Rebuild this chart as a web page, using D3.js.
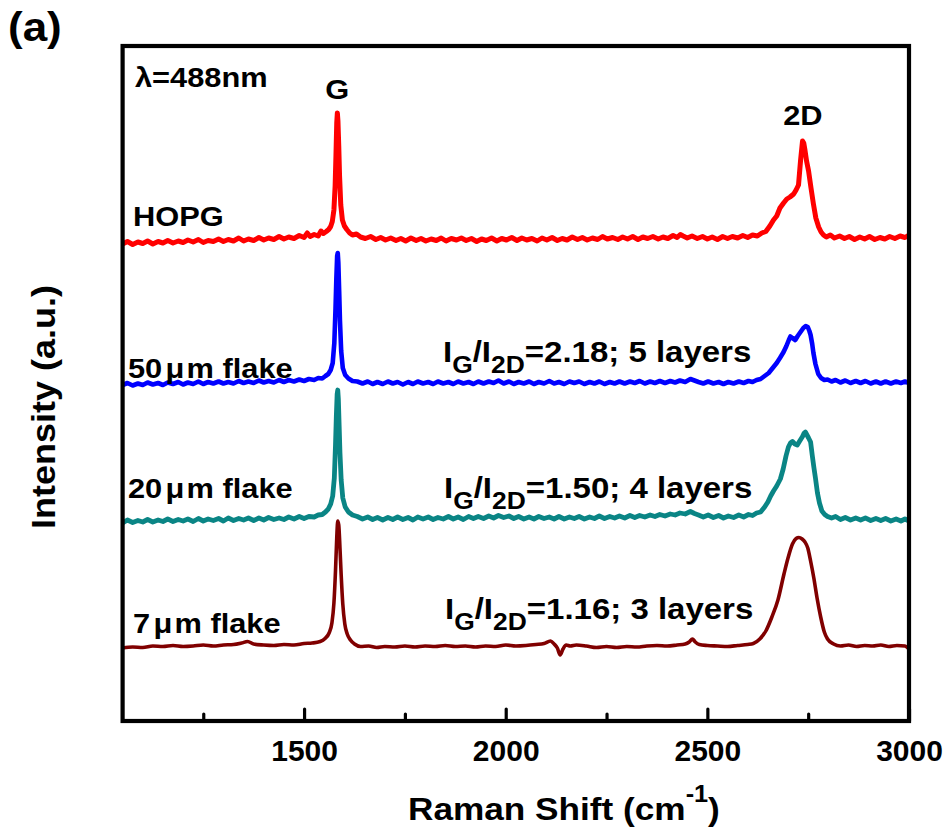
<!DOCTYPE html>
<html>
<head>
<meta charset="utf-8">
<script src="https://cdn.jsdelivr.net/npm/d3@7"></script>
<style>
  body { margin: 0; background: #fff; }
  text { font-family: "Liberation Sans", Arial, Helvetica, sans-serif; font-weight: bold; fill: #000; }
</style>
</head>
<body>
<svg id="chart" width="948" height="828"></svg>
<script>
// Raman spectra, [shift (cm^-1), stacked intensity (a.u.)]
const hopg = [
  [1050,95.4],[1062,95.9],[1075,95.3],[1088,95.8],[1100,95.5],[1112,96.0],[1125,95.4],[1138,95.9],[1150,95.6],[1162,96.1],
  [1175,95.6],[1188,96.0],[1200,95.7],[1212,96.2],[1225,95.8],[1238,96.3],[1250,95.7],[1262,96.1],[1275,95.9],[1288,96.4],
  [1300,95.9],[1312,96.3],[1325,96.0],[1338,96.6],[1350,96.0],[1362,96.4],[1375,96.1],[1388,96.7],[1400,96.2],[1412,96.6],
  [1425,96.3],[1438,96.9],[1450,96.4],[1462,96.8],[1475,96.5],[1488,97.1],[1500,96.7],[1508,97.6],[1515,96.9],[1525,97.3],
  [1535,97.0],[1542,98.0],[1548,97.5],[1555,97.9],[1561,98.3],[1566,98.9],[1570,99.9],[1574,102.2],[1577,107.0],[1579,113.0],
  [1581,119.6],[1582.5,121.6],[1584,120.0],[1586,115.0],[1588,109.0],[1591,103.2],[1595,100.2],[1600,99.0],[1606,98.3],[1613,97.6],
  [1620,97.2],[1630,97.4],[1640,96.8],[1652,96.5],[1665,96.9],[1678,96.3],[1690,96.7],[1702,96.2],[1715,96.6],[1728,96.1],
  [1740,96.5],[1752,96.0],[1765,96.6],[1778,96.1],[1790,96.5],[1802,96.0],[1815,96.4],[1828,96.1],[1840,96.6],[1852,96.0],
  [1865,96.5],[1878,96.2],[1890,96.6],[1902,96.1],[1915,96.5],[1928,95.9],[1940,96.4],[1952,96.1],[1965,96.6],[1978,96.0],
  [1990,96.5],[2002,96.2],[2015,96.7],[2028,96.1],[2040,96.6],[2052,96.2],[2065,96.5],[2078,96.0],[2090,96.6],[2102,96.2],
  [2115,96.7],[2128,96.1],[2140,96.5],[2152,96.2],[2165,96.8],[2178,96.3],[2190,96.7],[2202,96.2],[2215,96.6],[2228,96.3],
  [2240,96.9],[2252,96.4],[2265,96.7],[2278,96.3],[2290,96.8],[2302,96.4],[2315,96.9],[2328,96.3],[2340,96.8],[2352,96.5],
  [2365,96.9],[2378,96.4],[2390,96.8],[2402,96.5],[2415,97.1],[2425,96.7],[2433,97.3],[2440,97.0],[2450,96.6],[2462,97.0],
  [2475,96.5],[2488,96.9],[2500,96.4],[2512,96.8],[2525,96.3],[2538,96.9],[2550,96.5],[2562,96.9],[2575,96.6],[2588,97.1],
  [2600,96.7],[2612,97.2],[2624,97.0],[2635,97.6],[2645,97.9],[2655,99.0],[2664,100.2],[2672,101.0],[2680,102.6],[2689,103.6],
  [2697,104.4],[2705,104.8],[2714,105.4],[2720,106.2],[2726,107.2],[2731,112.0],[2736,116.0],[2739,115.6],[2742,114.2],[2746,112.0],
  [2751,110.0],[2757,106.6],[2763,103.4],[2769,100.6],[2776,98.8],[2782,97.8],[2788,97.2],[2795,96.8],[2805,97.2],[2815,96.6],
  [2828,97.0],[2840,96.5],[2852,96.9],[2865,96.3],[2878,96.8],[2890,96.4],[2902,96.9],[2915,96.3],[2928,96.7],[2940,96.4],
  [2952,96.9],[2965,96.5],[2978,97.0],[2990,96.7],[3000,97.2]
];

const flake50 = [
  [1050,67.2],[1062,67.6],[1075,67.1],[1088,67.5],[1100,67.2],[1112,67.7],[1125,67.3],[1138,67.6],[1150,67.2],[1162,67.7],
  [1175,67.4],[1188,67.8],[1200,67.3],[1212,67.7],[1225,67.4],[1238,67.9],[1250,67.4],[1262,67.8],[1275,67.5],[1288,67.9],
  [1300,67.5],[1312,67.8],[1325,67.5],[1338,68.0],[1350,67.6],[1362,67.9],[1375,67.6],[1388,68.1],[1400,67.7],[1412,68.0],
  [1425,67.7],[1438,68.2],[1450,67.8],[1462,68.2],[1475,67.9],[1488,68.3],[1500,68.0],[1512,68.4],[1525,68.2],[1535,68.6],
  [1545,68.5],[1553,69.0],[1560,69.4],[1566,70.2],[1571,71.6],[1575,75.6],[1578,82.6],[1580,88.4],[1582,93.0],[1583.5,93.6],
  [1585,91.6],[1587,86.0],[1589,80.0],[1592,74.0],[1596,70.6],[1602,69.2],[1610,68.5],[1620,68.0],[1632,67.9],[1645,67.5],
  [1658,67.9],[1670,67.4],[1682,67.8],[1695,67.4],[1708,67.9],[1720,67.5],[1732,67.8],[1745,67.3],[1758,67.8],[1770,67.4],
  [1782,67.9],[1795,67.5],[1808,67.8],[1820,67.4],[1832,67.9],[1845,67.5],[1858,67.8],[1870,67.4],[1882,67.9],[1895,67.5],
  [1908,67.8],[1920,67.4],[1932,67.9],[1945,67.5],[1958,67.9],[1970,67.6],[1982,68.1],[1995,67.5],[2008,67.9],[2020,67.4],
  [2032,67.8],[2045,67.5],[2058,67.9],[2070,67.4],[2082,67.8],[2095,67.5],[2108,68.0],[2120,67.5],[2132,67.8],[2145,67.4],
  [2158,67.9],[2170,67.6],[2182,67.9],[2195,67.4],[2208,67.8],[2220,67.5],[2232,67.9],[2245,67.4],[2258,67.8],[2270,67.5],
  [2282,67.9],[2295,67.5],[2308,67.9],[2320,67.6],[2332,68.0],[2345,67.5],[2358,67.9],[2370,67.6],[2382,68.0],[2395,67.6],
  [2408,68.0],[2420,67.7],[2432,68.1],[2445,67.8],[2458,68.4],[2468,68.1],[2478,67.8],[2490,67.5],[2502,67.9],[2515,67.5],
  [2528,67.8],[2540,67.4],[2552,67.8],[2565,67.5],[2578,67.9],[2590,67.6],[2602,68.0],[2612,67.8],[2622,68.2],[2632,68.4],
  [2642,69.0],[2652,69.6],[2664,70.8],[2672,71.6],[2680,72.6],[2689,73.8],[2696,75.0],[2702,76.2],[2706,76.9],[2711,76.6],
  [2718,76.2],[2724,77.0],[2731,77.8],[2738,78.6],[2744,79.0],[2749,78.8],[2753,78.0],[2756,77.2],[2760,75.4],[2763,73.6],
  [2768,71.4],[2775,69.4],[2782,68.6],[2790,68.2],[2798,68.3],[2808,67.9],[2818,68.2],[2830,67.7],[2842,68.1],[2855,67.6],
  [2868,68.0],[2880,67.6],[2892,68.0],[2905,67.5],[2918,67.9],[2930,67.5],[2942,67.9],[2955,67.5],[2968,67.9],[2980,67.6],
  [2990,67.9],[3000,67.6]
];

const flake20 = [
  [1050,39.6],[1062,40.2],[1075,39.7],[1088,40.1],[1100,39.8],[1112,40.3],[1125,39.8],[1138,40.2],[1150,39.9],[1162,40.4],
  [1175,39.9],[1188,40.3],[1200,40.0],[1212,40.4],[1225,39.9],[1238,40.5],[1250,40.0],[1262,40.4],[1275,40.1],[1288,40.5],
  [1300,40.0],[1312,40.6],[1325,40.1],[1338,40.5],[1350,40.2],[1362,40.6],[1375,40.1],[1388,40.6],[1400,40.2],[1412,40.7],
  [1425,40.3],[1438,40.6],[1450,40.3],[1462,40.8],[1475,40.4],[1488,40.9],[1500,40.5],[1512,40.9],[1525,40.8],[1535,41.2],
  [1545,41.3],[1553,41.8],[1560,42.4],[1566,43.4],[1571,45.0],[1575,48.6],[1578,55.4],[1580,61.0],[1582,65.4],[1583.5,66.2],
  [1585,64.4],[1587,59.0],[1589,53.6],[1592,48.2],[1596,44.6],[1602,42.8],[1610,41.8],[1620,41.2],[1632,40.9],[1645,40.4],
  [1658,40.8],[1670,40.3],[1682,40.7],[1695,40.2],[1708,40.7],[1720,40.3],[1732,40.8],[1745,40.3],[1758,40.7],[1770,40.2],
  [1782,40.8],[1795,40.4],[1808,40.8],[1820,40.3],[1832,40.7],[1845,40.4],[1858,40.9],[1870,40.4],[1882,40.8],[1895,40.3],
  [1908,40.9],[1920,40.5],[1932,40.9],[1945,40.5],[1958,41.0],[1970,40.6],[1982,41.1],[1995,40.7],[2008,41.0],[2020,40.5],
  [2032,40.9],[2045,40.4],[2058,40.8],[2070,40.4],[2082,40.9],[2095,40.5],[2108,40.8],[2120,40.4],[2132,40.9],[2145,40.4],
  [2158,40.8],[2170,40.5],[2182,40.9],[2195,40.4],[2208,40.8],[2220,40.5],[2232,41.0],[2245,40.5],[2258,40.9],[2270,40.6],
  [2282,41.0],[2295,40.6],[2308,41.1],[2320,40.7],[2332,41.1],[2345,40.8],[2358,41.2],[2370,40.9],[2382,41.3],[2395,41.0],
  [2408,41.4],[2420,41.2],[2432,41.6],[2445,41.4],[2458,41.9],[2468,41.5],[2478,41.2],[2490,40.8],[2502,41.2],[2515,40.7],
  [2528,41.1],[2540,40.6],[2552,41.0],[2565,40.7],[2578,41.2],[2590,40.8],[2602,41.3],[2612,41.1],[2622,41.6],[2632,41.8],
  [2642,42.8],[2650,43.8],[2657,45.0],[2664,46.0],[2672,47.0],[2681,48.4],[2688,50.4],[2695,53.0],[2701,54.8],[2706,55.6],
  [2711,55.9],[2717,55.4],[2723,55.2],[2729,56.0],[2736,56.9],[2740,57.6],[2743,57.8],[2747,57.2],[2751,56.6],[2756,55.8],
  [2760,53.2],[2764,50.8],[2768,48.6],[2773,45.6],[2778,43.6],[2784,42.0],[2791,41.3],[2798,40.9],[2808,40.6],[2818,40.9],
  [2830,40.3],[2842,40.7],[2855,40.2],[2868,40.6],[2880,40.2],[2892,40.6],[2905,40.1],[2918,40.5],[2930,40.1],[2942,40.5],
  [2955,40.0],[2968,40.4],[2980,40.0],[2990,40.4],[3000,40.0]
];

const flake7 = [
  [1050,14.6],[1075,14.8],[1100,14.7],[1125,15.0],[1150,14.9],[1175,15.1],[1200,14.9],[1225,15.0],[1250,15.2],[1275,15.0],
  [1300,15.2],[1325,15.3],[1345,15.6],[1360,15.9],[1375,15.4],[1400,15.2],[1425,15.1],[1450,15.3],[1475,15.2],[1500,15.5],
  [1520,15.6],[1540,15.9],[1552,16.5],[1562,17.6],[1569,19.6],[1574,23.6],[1578,30.2],[1581,36.6],[1583.5,40.0],[1586,39.2],
  [1589,34.6],[1592,29.2],[1596,23.4],[1601,19.4],[1607,17.4],[1615,16.2],[1625,15.4],[1640,14.9],[1660,15.0],[1680,14.7],
  [1700,14.9],[1725,14.8],[1750,15.0],[1775,14.8],[1800,15.0],[1825,14.9],[1850,15.1],[1875,14.9],[1900,15.0],[1925,14.8],
  [1950,15.0],[1975,14.9],[2000,15.2],[2025,15.0],[2050,15.1],[2075,15.3],[2095,15.5],[2111,16.0],[2120,15.4],[2128,14.6],
  [2135,13.2],[2142,14.4],[2150,15.2],[2160,15.0],[2175,15.2],[2200,15.0],[2225,14.7],[2250,14.9],[2275,14.7],[2300,14.9],
  [2325,14.8],[2350,15.0],[2375,15.1],[2400,15.0],[2425,15.2],[2445,15.4],[2455,15.8],[2463,16.4],[2470,15.8],[2480,15.3],
  [2500,15.1],[2525,15.0],[2550,14.9],[2575,15.1],[2600,15.3],[2614,15.5],[2630,16.4],[2645,18.0],[2660,20.8],[2675,24.2],
  [2690,29.4],[2700,32.6],[2711,35.4],[2720,36.5],[2727,36.7],[2735,36.4],[2742,35.8],[2749,34.6],[2756,32.0],[2764,28.6],
  [2772,24.6],[2781,20.8],[2790,17.8],[2798,16.4],[2813,15.4],[2830,15.0],[2850,15.2],[2870,14.9],[2890,15.1],[2910,15.0],
  [2930,15.2],[2950,14.9],[2970,15.1],[2990,15.0],[3000,14.4]
];

const majorTicks = [1500, 2000, 2500, 3000];
const minorTicks = [1250, 1750, 2250, 2750];

const series = [
  { data: hopg,    color: "#ff0000", width: 5.0, smooth: false },
  { data: flake50, color: "#0000ff", width: 4.6, smooth: false },
  { data: flake20, color: "#0a8585", width: 4.8, smooth: false },
  { data: flake7,  color: "#800000", width: 3.6, smooth: true }
];

const sampleLabels = [
  { size: "",   unit: "HOPG", x: 133, y: 226 },
  { size: "50", unit: "m flake", x: 128, y: 378 },
  { size: "20", unit: "m flake", x: 128, y: 498 },
  { size: "7",  unit: "m flake", x: 133, y: 633 }
];

const ratioLabels = [
  { ratio: "2.18", layers: "5", x: 443, y: 362 },
  { ratio: "1.50", layers: "4", x: 444, y: 498 },
  { ratio: "1.16", layers: "3", x: 445, y: 619 }
];

// the lettering of this figure is slightly wider than Arial
const STRETCH = 1.1;

const svg = d3.select("#chart");
svg.append("rect").attr("width", 948).attr("height", 828).attr("fill", "#fff");

const x = d3.scaleLinear().domain([1050, 3000]).range([122.6, 909]);
const y = d3.scaleLinear().domain([0, 135]).range([721, 46]);

svg.append("clipPath").attr("id", "plot-clip")
  .append("rect")
  .attr("x", x(1050)).attr("y", y(135))
  .attr("width", x(3000) - x(1050)).attr("height", y(0) - y(135));

const traces = svg.append("g").attr("clip-path", "url(#plot-clip)");
series.forEach(s => {
  const line = d3.line()
    .x(d => x(d[0]))
    .y(d => y(d[1]))
    .curve(s.smooth ? d3.curveMonotoneX : d3.curveLinear);
  traces.append("path")
    .datum(s.data)
    .attr("d", line)
    .attr("fill", "none")
    .attr("stroke", s.color)
    .attr("stroke-width", s.width)
    .attr("stroke-linejoin", "round")
    .attr("stroke-linecap", "round");
});

// bottom axis: inward major and minor ticks
const axisG = svg.append("g").attr("transform", `translate(0,${y(0)})`);
axisG.call(d3.axisBottom(x).tickValues(majorTicks).tickSize(-12).tickPadding(19).tickFormat(d3.format("d")));
axisG.select(".domain").remove();
axisG.selectAll(".tick line").attr("stroke", "#000").attr("stroke-width", 3.2).attr("stroke-linecap", "round");
axisG.selectAll(".tick text")
  .style("font-family", "\"Liberation Sans\", Arial, sans-serif")
  .style("font-weight", "bold")
  .style("font-size", "30px")
  .attr("fill", "#000");

const minorG = svg.append("g").attr("transform", `translate(0,${y(0)})`);
minorG.call(d3.axisBottom(x).tickValues(minorTicks).tickSize(-7).tickFormat(""));
minorG.select(".domain").remove();
minorG.selectAll(".tick line").attr("stroke", "#000").attr("stroke-width", 3.2).attr("stroke-linecap", "round");

// frame
svg.append("rect")
  .attr("x", x(1050)).attr("y", y(135))
  .attr("width", x(3000) - x(1050)).attr("height", y(0) - y(135))
  .attr("fill", "none").attr("stroke", "#000").attr("stroke-width", 4.2);

// text placed at (px, py), widened horizontally
function label(px, py, size, anchor) {
  return svg.append("text")
    .attr("transform", `translate(${px},${py}) scale(${STRETCH},1)`)
    .attr("text-anchor", anchor || "start")
    .style("font-size", size + "px");
}

// axis titles
const xt = label(408, 820, 32);
xt.append("tspan").text("Raman Shift (cm");
xt.append("tspan").attr("dy", -18).style("font-size", "23px").text("-1");
xt.append("tspan").attr("dy", 18).text(")");

svg.append("text")
  .attr("transform", "translate(55,407) rotate(-90) scale(1.06,1)")
  .attr("text-anchor", "middle")
  .style("font-size", "34px")
  .text("Intensity (a.u.)");

// panel letter and annotations
label(8, 41, 40).text("(a)");
label(135, 87, 28).text("λ=488nm");
label(x(1582), 99, 28, "middle").text("G");
label(x(2737), 125, 28, "middle").text("2D");

sampleLabels.forEach(l => {
  const t = label(l.x, l.y, 28);
  if (l.size) {
    t.append("tspan").text(l.size);
    t.append("tspan").attr("dx", 3).text("μ");
    t.append("tspan").attr("dx", 2).text(l.unit);
  } else {
    t.text(l.unit);
  }
});

ratioLabels.forEach(l => {
  const t = label(l.x, l.y, 30);
  t.append("tspan").text("I");
  t.append("tspan").attr("dy", 11).style("font-size", "24px").text("G");
  t.append("tspan").attr("dy", -11).text("/I");
  t.append("tspan").attr("dy", 11).style("font-size", "24px").text("2D");
  t.append("tspan").attr("dy", -11).text(`=${l.ratio}; ${l.layers} layers`);
});
</script>
</body>
</html>
